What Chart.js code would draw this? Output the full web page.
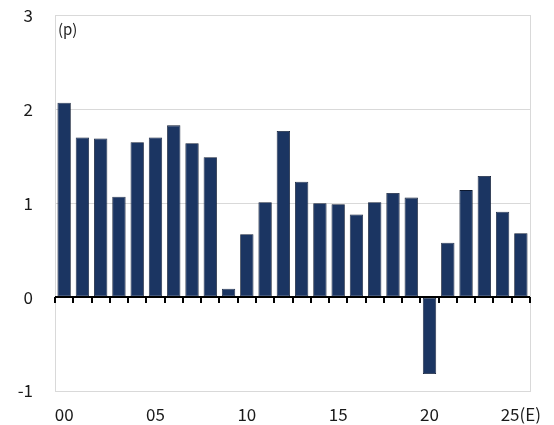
<!DOCTYPE html>
<html>
<head>
<meta charset="utf-8">
<script src="https://cdn.jsdelivr.net/npm/chart.js@4/dist/chart.umd.min.js"></script>
<style>
  html, body { margin: 0; padding: 0; background: #fff; }
</style>
</head>
<body>
<canvas id="c" width="554" height="425"></canvas>
<script>
// Years 2000-2025 (2025 estimated)
const years = ['00','01','02','03','04','05','06','07','08','09','10','11','12',
               '13','14','15','16','17','18','19','20','21','22','23','24','25(E)'];
// Change, in percentage points
const values = [2.07, 1.70, 1.69, 1.07, 1.65, 1.70, 1.83, 1.64, 1.49, 0.09,
                0.67, 1.01, 1.77, 1.23, 1.00, 0.99, 0.88, 1.01, 1.11, 1.06,
                -0.82, 0.58, 1.14, 1.29, 0.91, 0.68];
// Only every fifth year is labelled on the axis
const shownLabels = ['00', '05', '10', '15', '20', '25(E)'];
const unitLabel = '(p)';

const FONT = "'Noto Sans CJK KR', 'Noto Sans', sans-serif";
const CLEAR = 'rgba(0,0,0,0)';

// Bar fill: dark navy, darker towards both edges
function barFill(ctx) {
  const el = ctx.element;
  if (!el || el.width === undefined || !isFinite(el.x)) return '#1b3562';
  const x0 = el.x - el.width / 2, x1 = el.x + el.width / 2;
  const g = ctx.chart.ctx.createLinearGradient(x0, 0, x1, 0);
  g.addColorStop(0, '#0f1f3d');
  g.addColorStop(0.35, '#1e3a69');
  g.addColorStop(0.65, '#1c3764');
  g.addColorStop(1, '#0e1c38');
  return g;
}

// Black zero line with short tick marks between the years
const zeroAxisPlugin = {
  id: 'zeroAxis',
  afterDatasetsDraw(chart) {
    const { ctx, chartArea, scales: { x, y } } = chart;
    const y0 = Math.round(y.getPixelForValue(0));
    const n = years.length;
    const step = (x.getPixelForValue(n - 1) - x.getPixelForValue(0)) / (n - 1);
    ctx.save();
    ctx.strokeStyle = '#000';
    ctx.lineWidth = 2;
    ctx.beginPath();
    ctx.moveTo(chartArea.left, y0);
    ctx.lineTo(chartArea.right, y0);
    for (let i = 0; i <= n; i++) {
      const bx = Math.round(x.getPixelForValue(0) - step / 2 + i * step);
      ctx.moveTo(bx, y0);
      ctx.lineTo(bx, y0 + 6);
    }
    ctx.stroke();
    ctx.restore();
  }
};

// Unit caption in the top-left corner of the plot
const unitPlugin = {
  id: 'unitText',
  afterDraw(chart) {
    const { ctx, chartArea } = chart;
    ctx.save();
    ctx.font = '15px ' + FONT;
    ctx.fillStyle = '#222';
    ctx.textAlign = 'left';
    ctx.textBaseline = 'middle';
    ctx.fillText(unitLabel, chartArea.left + 3, chartArea.top + 14);
    ctx.restore();
  }
};

new Chart(document.getElementById('c'), {
  type: 'bar',
  data: {
    labels: years,
    datasets: [{
      data: values,
      backgroundColor: barFill,
      borderColor: '#0c1830',
      borderWidth: 0.8,
      borderSkipped: false,
      barPercentage: 0.73,
      categoryPercentage: 1.0
    }]
  },
  options: {
    responsive: false,
    animation: false,
    devicePixelRatio: 1,
    layout: { padding: { top: 15.5, right: 24, left: 0, bottom: 1.5 } },
    plugins: {
      legend: { display: false },
      tooltip: { enabled: false }
    },
    scales: {
      x: {
        type: 'category',
        position: 'bottom',
        offset: true,
        grid: { display: true, drawOnChartArea: false, drawTicks: true, tickLength: 15.5, tickColor: CLEAR },
        border: { display: true, color: '#d9d9d9', width: 1 },
        ticks: {
          autoSkip: false,
          maxRotation: 0,
          padding: 0,
          color: '#1a1a1a',
          font: { family: FONT, size: 17, lineHeight: 1 },
          callback(v) {
            const l = this.getLabelForValue(v);
            return shownLabels.includes(l) ? l : '';
          }
        }
      },
      y: {
        min: -1,
        max: 3,
        ticks: {
          stepSize: 1,
          padding: 0,
          color: '#1a1a1a',
          font: { family: FONT, size: 17, lineHeight: 1 }
        },
        grid: { color: '#d9d9d9', lineWidth: 1, drawTicks: true, tickLength: 22, tickColor: CLEAR },
        border: { display: true, color: '#d9d9d9', width: 1 },
        afterFit(scale) { scale.width = 55; }
      },
      yRight: {
        position: 'right',
        min: -1,
        max: 3,
        ticks: { display: false, padding: 0 },
        grid: { drawOnChartArea: false, drawTicks: false },
        border: { display: true, color: '#d9d9d9', width: 1 },
        afterFit(scale) { scale.width = 0; }
      }
    }
  },
  plugins: [zeroAxisPlugin, unitPlugin]
});
</script>
</body>
</html>
